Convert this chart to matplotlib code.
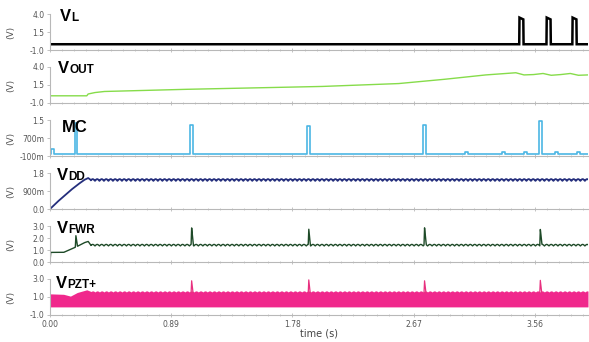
import numpy as np
import matplotlib
matplotlib.use("Agg")
import matplotlib.pyplot as plt
from matplotlib.ticker import FixedLocator, MultipleLocator

# ---------------- data ----------------
x_ticks = [0.00, 0.89, 1.78, 2.67, 3.56]
x_tick_labels = ["0.00", "0.89", "1.78", "2.67", "3.56"]
T_END = 3.95

# VL : logic output, three pulses near the end
vl_t = [0.0, 3.445, 3.447, 3.475, 3.477, 3.645, 3.647, 3.675, 3.677,
        3.835, 3.837, 3.865, 3.867, 3.95]
vl_v = [-0.2, -0.2, 3.5, 3.25, -0.2, -0.2, 3.5, 3.25, -0.2,
        -0.2, 3.5, 3.25, -0.2, -0.2]

# VOUT : slowly charging output
vout_t = [0.0, 0.27, 0.28, 0.33, 0.40, 1.00, 1.50, 2.00, 2.56, 2.90, 3.20,
          3.42, 3.48, 3.55, 3.62, 3.68, 3.75, 3.82, 3.88, 3.95]
vout_v = [0.0, 0.0, 0.25, 0.45, 0.60, 0.90, 1.10, 1.30, 1.70, 2.30, 2.90,
          3.20, 2.90, 2.95, 3.10, 2.85, 2.95, 3.10, 2.85, 2.90]

# MC : narrow spikes
mc_base = 0.0
mc_spike_t = [0.19, 1.04, 1.90, 2.75, 3.60]
mc_spike_v = [1.35, 1.30, 1.25, 1.30, 1.45]
mc_bump_t = [0.02, 3.06, 3.33, 3.49, 3.72, 3.88]
mc_bump_v = [0.22, 0.06, 0.06, 0.06, 0.06, 0.06]

# VDD : start-up ramp then rippled plateau
vdd_t = [0.0, 0.05, 0.10, 0.15, 0.20, 0.25, 0.28, 0.30, 3.95]
vdd_v = [0.0, 0.33, 0.63, 0.93, 1.20, 1.45, 1.55, 1.45, 1.45]
vdd_ripple = 0.09

# VFWR : rectifier output
vfwr_t = [0.0, 0.005, 0.10, 0.15, 0.20, 0.25, 0.28, 0.30, 3.95]
vfwr_v = [0.0, 0.80, 0.80, 1.05, 1.30, 1.60, 1.72, 1.40, 1.40]
vfwr_ripple = 0.13
vfwr_spike_t = [0.19, 1.04, 1.90, 2.75, 3.60]
vfwr_spike_v = [2.20, 2.85, 2.75, 2.85, 2.75]

# VPZT+ : piezo voltage band (fast AC filling the band)
vpzt_low = -0.10
vpzt_t = [0.0, 0.10, 0.15, 0.20, 0.27, 0.30, 3.95]
vpzt_top = [1.35, 1.30, 1.10, 1.50, 1.80, 1.62, 1.62]
vpzt_ripple = 0.12
vpzt_spike_t = [1.04, 1.90, 2.75, 3.60]
vpzt_spike_v = [2.80, 2.90, 2.80, 2.85]

RIPPLE_PERIOD = 0.033

# ---------------- figure ----------------
W, H = 589, 342
fig = plt.figure(figsize=(W / 100, H / 100), dpi=100)

left_px, right_px = 50, 588
top0, h_px, step = 14, 36, 53
axes = []
for i in range(6):
    top = top0 + step * i
    ax = fig.add_axes([left_px / W, 1 - (top + h_px) / H,
                       (right_px - left_px) / W, h_px / H])
    axes.append(ax)

t = np.linspace(0, T_END, 8000)
rip = np.abs(np.sin(np.pi * t / RIPPLE_PERIOD))
after = t > 0.30

# VL
axes[0].plot(vl_t, vl_v, color="black", lw=1.8, solid_joinstyle="miter")

# VOUT
axes[1].plot(vout_t, vout_v, color="#86dc4a", lw=1.0)

# MC
mc_t = [0.0]
mc_v = [mc_base]
events = sorted([(tt, vv, 0.010) for tt, vv in zip(mc_spike_t, mc_spike_v)] +
                [(tt, vv, 0.012) for tt, vv in zip(mc_bump_t, mc_bump_v)])
for tt, vv, w in events:
    mc_t += [tt - w, tt - w, tt + w, tt + w]
    mc_v += [mc_base, vv, vv, mc_base]
mc_t.append(T_END)
mc_v.append(mc_base)
axes[2].plot(mc_t, mc_v, color="#4cb6e4", lw=1.2)

# VDD
vdd = np.interp(t, vdd_t, vdd_v) + np.where(after, vdd_ripple * (rip - 0.5), 0)
axes[3].plot(t, vdd, color="#242e7c", lw=1.3)

# VFWR
vfwr = np.interp(t, vfwr_t, vfwr_v) + np.where(after, vfwr_ripple * (rip - 0.5), 0)
for st, sv in zip(vfwr_spike_t, vfwr_spike_v):
    m = (t >= st - 0.004) & (t <= st + 0.012)
    shape = np.where(t[m] < st, (t[m] - (st - 0.004)) / 0.004,
                     1 - (t[m] - st) / 0.012)
    vfwr[m] = np.maximum(vfwr[m], vfwr[m] + (sv - vfwr[m]) * shape)
axes[4].plot(t, vfwr, color="#1e4a28", lw=1.0)

# VPZT+
top_env = np.interp(t, vpzt_t, vpzt_top) + np.where(after, vpzt_ripple * (rip - 0.5), 0)
axes[5].fill_between(t, vpzt_low, top_env, color="#f0288c", lw=0)
for st, sv in zip(vpzt_spike_t, vpzt_spike_v):
    axes[5].plot([st - 0.004, st, st + 0.01], [1.5, sv, 1.5], color="#e8307f", lw=0.9)

# ---------------- axes styling ----------------
ylims = [(-1.0, 4.0), (-1.0, 4.0), (-0.1, 1.5), (0.0, 1.8), (0.0, 3.0), (-1.0, 3.0)]
yticks = [[-1.0, 1.5, 4.0], [-1.0, 1.5, 4.0], [-0.1, 0.7, 1.5],
          [0.0, 0.9, 1.8], [0.0, 1.0, 2.0, 3.0], [-1.0, 1.0, 3.0]]
yticklabels = [["-1.0", "1.5", "4.0"], ["-1.0", "1.5", "4.0"],
               ["-100m", "700m", "1.5"], ["0.0", "900m", "1.8"],
               ["0.0", "1.0", "2.0", "3.0"], ["-1.0", "1.0", "3.0"]]
gray = "#b8b8b8"
for i, ax in enumerate(axes):
    ax.set_xlim(0, T_END)
    ax.set_ylim(*ylims[i])
    for s in ("top", "right"):
        ax.spines[s].set_visible(False)
    ax.spines["left"].set_color(gray)
    ax.spines["bottom"].set_color(gray)
    ax.spines["left"].set_linewidth(0.8)
    ax.spines["bottom"].set_linewidth(0.8)
    ax.set_yticks(yticks[i])
    ax.set_yticklabels(yticklabels[i])
    ax.xaxis.set_major_locator(FixedLocator(x_ticks))
    ax.xaxis.set_minor_locator(MultipleLocator(0.089))
    ax.tick_params(axis="y", length=2, width=0.6, color=gray, pad=2,
                   labelsize=5.5, labelcolor="#555555")
    ax.tick_params(axis="x", which="major", direction="inout", length=3,
                   width=0.6, color=gray, pad=2, labelsize=5.5, labelcolor="#555555")
    ax.tick_params(axis="x", which="minor", direction="inout", length=2,
                   width=0.5, color=gray)
    if i < 5:
        ax.set_xticklabels([])
    else:
        ax.set_xticklabels(x_tick_labels)
    ax.set_ylabel("(V)", fontsize=6.5, color="#555555")
    ax.yaxis.set_label_coords(-0.065, 0.5)
    ax.patch.set_alpha(0)

axes[5].set_xlabel("time (s)", fontsize=7, color="#444444", labelpad=0)

# ---------------- panel titles ----------------
titles = [("V", "L"), ("V", "OUT"), ("MC", ""), ("V", "DD"), ("V", "FWR"), ("V", "PZT+")]
title_x = [0.018, 0.015, 0.022, 0.013, 0.013, 0.011]
title_y = [0.80, 0.83, 0.68, 0.80, 0.80, 0.74]
for ax, (main, sub), tx, ty in zip(axes, titles, title_x, title_y):
    txt = ax.text(tx, ty, main, transform=ax.transAxes, fontsize=12,
                  fontweight="bold", family="Liberation Sans", va="baseline",
                  ha="left", color="black", zorder=5)
    if sub:
        ax.annotate(sub, xy=(1, 0), xycoords=txt, fontsize=8.5,
                    fontweight="bold", family="Liberation Sans", va="bottom",
                    ha="left", color="black", zorder=5)

fig.savefig("out.png", dpi=100)
